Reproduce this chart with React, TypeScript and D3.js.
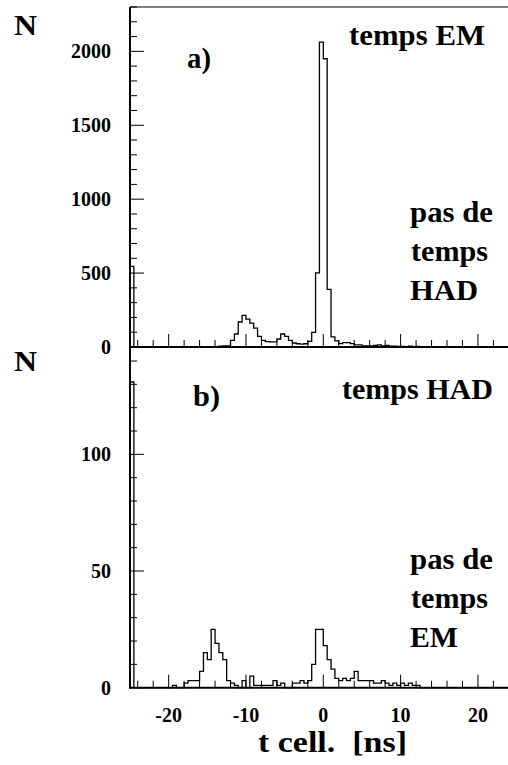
import React from "react";
import * as d3 from "d3";

// bins of 0.5 ns from -25 to 25 ns
const binStart = -25;
const binWidth = 0.5;

// panel a) : temps EM
const countsEM: number[] = [
  545, 0, 0, 0, 0, 0, 0, 0, 0, 0,
  0, 0, 0, 0, 0, 0, 0, 0, 0, 0,
  0, 0, 3, 6, 7, 8, 45, 88, 169, 214,
  189, 162, 128, 72, 45, 36, 34, 34, 54, 88,
  72, 45, 27, 22, 20, 22, 38, 99, 502, 2063,
  1950, 390, 68, 41, 23, 29, 29, 23, 14, 14,
  7, 7, 7, 10, 14, 8, 10, 5, 5, 4,
  4, 3, 5, 3, 4, 2, 3, 2, 0, 0,
  0, 0, 0, 0, 0, 0, 0, 0, 0, 0,
  0, 0, 0, 0, 0, 0, 0, 0, 0, 0,
];

// panel b) : temps HAD
const countsHAD: number[] = [
  131, 0, 0, 0, 0, 0, 0, 0, 0, 0,
  0, 1, 0, 0, 2, 3, 3, 3, 7, 15,
  12, 25, 19, 15, 12, 3, 2, 1, 0, 3,
  0, 5, 1, 1, 1, 1, 1, 3, 1, 2,
  0, 0, 2, 2, 3, 2, 3, 10, 25, 25,
  18, 12, 8, 4, 3, 4, 3, 4, 7, 3,
  3, 3, 3, 2, 2, 3, 2, 1, 2, 1,
  2, 1, 2, 1, 1, 0, 0, 0, 0, 0,
  0, 0, 0, 0, 0, 0, 0, 0, 0, 0,
  0, 0, 0, 0, 0, 0, 0, 0, 0, 0,
];

const xMajorTicks = [-20, -10, 0, 10, 20];
const xTickLabels = ["-20", "-10", "0", "10", "20"];
const yTicksA = [0, 500, 1000, 1500, 2000];
const yTicksB = [0, 50, 100];

const FONT = "Liberation Serif, Times New Roman, DejaVu Serif, Noto Serif, serif";

type Bin = { t: number; v: number };

function toBins(counts: number[]): Bin[] {
  const pts: Bin[] = counts.map((v, i) => ({ t: binStart + i * binWidth, v }));
  pts.push({ t: binStart + counts.length * binWidth, v: counts[counts.length - 1] });
  return pts;
}

const x = d3.scaleLinear().domain([-25, 25]).range([130, 516.6]);

const PANEL_A = { top: 7, bottom: 347, ymax: 2300, minor: 100, major: 500 };
const PANEL_B = { top: 347, bottom: 687.7, ymax: 146, minor: 10, major: 50 };

function Panel({ cfg, counts, yTicks }: { cfg: typeof PANEL_A; counts: number[]; yTicks: number[] }) {
  const y = d3.scaleLinear().domain([0, cfg.ymax]).range([cfg.bottom, cfg.top]);
  const bins = toBins(counts);
  const line = d3
    .line<Bin>()
    .x((d) => x(d.t))
    .y((d) => y(d.v))
    .curve(d3.curveStepAfter);
  const first = { t: binStart, v: 0 };
  const path = line([first, ...bins, { t: 25, v: 0 }]) || "";

  const yMinor = d3.range(0, cfg.ymax + 1e-9, cfg.minor);
  const xMinor = d3.range(-24, 25, 2);

  return (
    <g>
      {xMinor.map((t) => {
        const major = t % 10 === 0;
        return (
          <line
            key={"xt" + t}
            x1={x(t)}
            x2={x(t)}
            y1={cfg.bottom}
            y2={cfg.bottom - (major ? 13 : 7)}
            stroke="#000"
            strokeWidth={1}
          />
        );
      })}
      {yMinor.map((v) => {
        const major = Math.abs(v % cfg.major) < 1e-6;
        return (
          <line
            key={"yt" + v}
            x1={130}
            x2={130 + (major ? 14 : 7)}
            y1={y(v)}
            y2={y(v)}
            stroke="#000"
            strokeWidth={1}
          />
        );
      })}
      <path d={path} fill="none" stroke="#000" strokeWidth={1.3} />
      {yTicks.map((v) => (
        <text
          key={"yl" + v}
          x={111}
          y={y(v) + 7}
          textAnchor="end"
          fontFamily={FONT}
          fontWeight="bold"
          fontSize={20}
        >
          {v}
        </text>
      ))}
    </g>
  );
}

type Label = { text: string; x: number; y: number; w: number };

const labels: Label[] = [
  { text: "a)", x: 187, y: 68, w: 24 },
  { text: "temps EM", x: 349, y: 45, w: 136 },
  { text: "pas de", x: 410, y: 222, w: 83 },
  { text: "temps", x: 411, y: 261, w: 77 },
  { text: "HAD", x: 410, y: 300, w: 68 },
  { text: "b)", x: 193, y: 406, w: 27 },
  { text: "temps HAD", x: 342, y: 399, w: 151 },
  { text: "pas de", x: 410, y: 569, w: 83 },
  { text: "temps", x: 411, y: 608, w: 77 },
  { text: "EM", x: 410, y: 647, w: 48 },
  { text: "N", x: 14, y: 35, w: 23 },
  { text: "N", x: 14, y: 371, w: 23 },
  { text: "t cell.  [ns]", x: 258, y: 752, w: 149 },
];

export default function App() {
  return (
    <svg
      width={508}
      height={765}
      viewBox="0 0 508 765"
      style={{ position: "absolute", left: 0, top: 0, display: "block", background: "#fff" }}
    >
      <rect x={0} y={0} width={508} height={765} fill="#fff" />
      <Panel cfg={PANEL_A} counts={countsEM} yTicks={yTicksA} />
      <Panel cfg={PANEL_B} counts={countsHAD} yTicks={yTicksB} />

      <line x1={130} x2={520} y1={7} y2={7} stroke="#000" strokeWidth={1.2} />
      <line x1={130} x2={130} y1={7} y2={688.5} stroke="#000" strokeWidth={2} />
      <line x1={129} x2={520} y1={347} y2={347} stroke="#000" strokeWidth={2} />
      <line x1={129} x2={520} y1={687.7} y2={687.7} stroke="#000" strokeWidth={2} />

      {xMajorTicks.map((t, i) => (
        <text
          key={"xl" + t}
          x={x(t)}
          y={722}
          textAnchor="middle"
          fontFamily={FONT}
          fontWeight="bold"
          fontSize={20}
        >
          {xTickLabels[i]}
        </text>
      ))}

      {labels.map((l, i) => (
        <text
          key={"lab" + i}
          x={l.x}
          y={l.y}
          fontFamily={FONT}
          fontWeight="bold"
          fontSize={30}
          textLength={l.w}
          lengthAdjust="spacingAndGlyphs"
          xmlSpace="preserve"
        >
          {l.text}
        </text>
      ))}
    </svg>
  );
}
